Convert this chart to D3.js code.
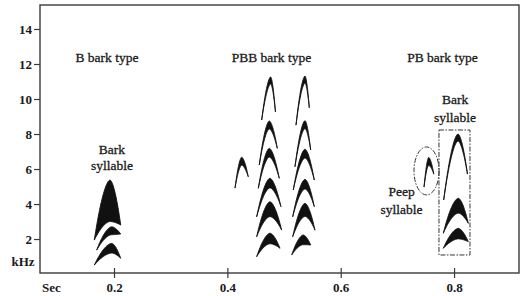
<!DOCTYPE html>
<html>
<head>
<meta charset="utf-8">
<script src="https://cdn.jsdelivr.net/npm/d3@7"></script>
<style>
  body { margin: 0; background: #fff; }
  text { font-family: "Liberation Serif", "Times New Roman", serif; fill: #1a1a1a; }
</style>
</head>
<body>
<div id="chart"></div>
<script>
// tick values
var yTicks = [2, 4, 6, 8, 10, 12, 14];
var xTicks = [0.2, 0.4, 0.6, 0.8];

// each harmonic arch: [tStart, tPeak, tEnd, kHzStart, kHzPeak, kHzEnd, thickness(kHz)]
var bBark = [
  [0.1652, 0.1929, 0.2118, 1.94, 5.37, 2.80, 2.37],
  [0.1694, 0.1959, 0.2118, 1.37, 2.70, 2.29, 0.45],
  [0.1652, 0.1959, 0.2118, 0.51, 1.75, 0.90, 0.55]
];
var pbbPeep = [
  [0.4135, 0.4253, 0.4369, 4.91, 6.67, 5.56, 0.45]
];
var pbbBarkA = [
  [0.4606, 0.4764, 0.4849, 8.80, 11.26, 9.26, 0.40],
  [0.4563, 0.4740, 0.4881, 6.23, 8.74, 7.18, 0.45],
  [0.4546, 0.4740, 0.4916, 4.90, 7.18, 5.47, 0.50],
  [0.4517, 0.4752, 0.4946, 3.27, 5.47, 3.85, 0.55],
  [0.4517, 0.4752, 0.4958, 2.13, 4.13, 2.51, 0.85],
  [0.4517, 0.4752, 0.4929, 0.99, 2.33, 1.47, 0.60]
];
var pbbBarkB = [
  [0.5211, 0.5370, 0.5446, 8.51, 11.31, 9.50, 0.40],
  [0.5193, 0.5370, 0.5470, 6.13, 8.76, 7.09, 0.45],
  [0.5163, 0.5370, 0.5534, 4.80, 7.13, 5.37, 0.50],
  [0.5153, 0.5370, 0.5534, 3.27, 5.41, 3.85, 0.55],
  [0.5153, 0.5370, 0.5546, 2.13, 4.04, 2.51, 0.75],
  [0.5135, 0.5340, 0.5470, 1.09, 2.23, 1.66, 0.55]
];
var pbPeep = [
  [0.7470, 0.7553, 0.7643, 4.97, 6.66, 5.71, 0.45]
];
var pbBark = [
  [0.7817, 0.8070, 0.8237, 4.23, 8.00, 5.71, 0.40],
  [0.7810, 0.8075, 0.8251, 2.33, 4.33, 2.90, 0.85],
  [0.7810, 0.8075, 0.8251, 1.47, 2.61, 1.85, 0.60]
];

// annotation marks (seconds / kHz)
var peepEllipse = [0.7514, 5.89, 0.0221, 1.37]; // cx, cy, rx, ry
var barkBox = [0.7734, 8.23, 0.8281, 1.09];     // t0, f0, t1, f1

var typeLabels = ['B bark type', 'PBB bark type', 'PB bark type'];
var typeLabelT = [0.1876, 0.4778, 0.7796];
var typeLabelF = 12.1;

// two-line notes: [line1, line2, t, kHz line1, kHz line2]
var notes = [
  ['Bark', 'syllable', 0.1964, 6.86, 5.94],
  ['Bark', 'syllable', 0.8017, 9.71, 8.69],
  ['Peep', 'syllable', 0.7073, 4.46, 3.43]
];

var width = 521, height = 296;
var plotL = 40, plotR = 519, plotT = 5, plotB = 273;

var svg = d3.select('#chart').append('svg')
  .attr('width', width).attr('height', height);

var x = d3.scaleLinear().domain([0.0694, 0.9146]).range([plotL, plotR]);
var y = d3.scaleLinear().domain([0.06, 15.37]).range([plotB, plotT]);

// builds the outline of one crescent-shaped harmonic
function archPoints(a) {
  var t0 = a[0], tp = a[1], t1 = a[2], f0 = a[3], fp = a[4], f1 = a[5];
  var fi = fp - a[6];
  var p = 1.7, n = 24, pts = [], i, s;
  for (i = 0; i <= n; i++) {
    s = i / n;
    pts.push([t0 + (tp - t0) * s, f0 + (fp - f0) * (1 - Math.pow(1 - s, p))]);
  }
  for (i = 1; i <= n; i++) {
    s = i / n;
    pts.push([tp + (t1 - tp) * s, fp - (fp - f1) * Math.pow(s, p)]);
  }
  for (i = n - 1; i >= 0; i--) {
    s = i / n;
    pts.push([tp + (t1 - tp) * s, fi - (fi - f1) * Math.pow(s, p)]);
  }
  for (i = n - 1; i >= 1; i--) {
    s = i / n;
    pts.push([t0 + (tp - t0) * s, f0 + (fi - f0) * (1 - Math.pow(1 - s, p))]);
  }
  return pts;
}

var archLine = d3.line()
  .x(function(d) { return x(d[0]); })
  .y(function(d) { return y(d[1]); })
  .curve(d3.curveLinearClosed);

var allArches = [].concat(bBark, pbbPeep, pbbBarkA, pbbBarkB, pbPeep, pbBark);

svg.append('g').selectAll('path')
  .data(allArches)
  .enter()
  .append('path')
  .attr('d', function(d) { return archLine(archPoints(d)); })
  .attr('fill', '#111')
  .attr('stroke', '#111')
  .attr('stroke-width', 0.9)
  .attr('stroke-linejoin', 'round');

// frame
svg.append('rect')
  .attr('x', plotL).attr('y', plotT)
  .attr('width', plotR - plotL).attr('height', plotB - plotT)
  .attr('fill', 'none').attr('stroke', '#3a3a3a').attr('stroke-width', 1.4);

// axes
var yAxis = svg.append('g')
  .attr('transform', 'translate(' + plotL + ',0)')
  .call(d3.axisLeft(y).tickValues(yTicks).tickSize(6).tickPadding(2).tickFormat(d3.format('d')));
var xAxis = svg.append('g')
  .attr('transform', 'translate(0,' + plotB + ')')
  .call(d3.axisBottom(x).tickValues(xTicks).tickSize(5).tickPadding(5).tickFormat(d3.format('.1f')));

[yAxis, xAxis].forEach(function(g) {
  g.select('.domain').remove();
  g.selectAll('line').attr('stroke', '#3a3a3a').attr('stroke-width', 1.2);
  g.selectAll('text')
    .attr('fill', '#1a1a1a')
    .style('font-family', '"Liberation Serif", serif')
    .style('font-size', '13px')
    .style('font-weight', 'bold');
});
xAxis.selectAll('line').attr('y1', -5);

svg.append('text').attr('x', 51.5).attr('y', 292)
  .attr('text-anchor', 'middle').style('font-size', '13px').style('font-weight', 'bold')
  .text('Sec');
svg.append('text').attr('x', 23).attr('y', 266)
  .attr('text-anchor', 'middle').style('font-size', '13px').style('font-weight', 'bold')
  .text('kHz');

// bark type titles
svg.append('g').selectAll('text')
  .data(typeLabels)
  .enter()
  .append('text')
  .attr('x', function(d, i) { return x(typeLabelT[i]); })
  .attr('y', y(typeLabelF))
  .attr('text-anchor', 'middle')
  .style('font-size', '13.5px')
  .style('stroke', '#1a1a1a').style('stroke-width', 0.3)
  .text(function(d) { return d; });

// syllable notes
var noteG = svg.append('g').selectAll('g')
  .data(notes)
  .enter()
  .append('g')
  .style('stroke', '#1a1a1a').style('stroke-width', 0.3);
noteG.append('text')
  .attr('x', function(d) { return x(d[2]); })
  .attr('y', function(d) { return y(d[3]); })
  .attr('text-anchor', 'middle')
  .style('font-size', '13.5px')
  .text(function(d) { return d[0]; });
noteG.append('text')
  .attr('x', function(d) { return x(d[2]); })
  .attr('y', function(d) { return y(d[4]); })
  .attr('text-anchor', 'middle')
  .style('font-size', '13.5px')
  .text(function(d) { return d[1]; });

// dashed outlines round the PB syllables
svg.append('ellipse')
  .attr('cx', x(peepEllipse[0])).attr('cy', y(peepEllipse[1]))
  .attr('rx', x(peepEllipse[0] + peepEllipse[2]) - x(peepEllipse[0]))
  .attr('ry', y(peepEllipse[1]) - y(peepEllipse[1] + peepEllipse[3]))
  .attr('fill', 'none').attr('stroke', '#333').attr('stroke-width', 1)
  .attr('stroke-dasharray', '5,1.5,1.5,1.5');
svg.append('rect')
  .attr('x', x(barkBox[0])).attr('y', y(barkBox[1]))
  .attr('width', x(barkBox[2]) - x(barkBox[0]))
  .attr('height', y(barkBox[3]) - y(barkBox[1]))
  .attr('fill', 'none').attr('stroke', '#333').attr('stroke-width', 1)
  .attr('stroke-dasharray', '5,1.5,1.5,1.5');
</script>
</body>
</html>
